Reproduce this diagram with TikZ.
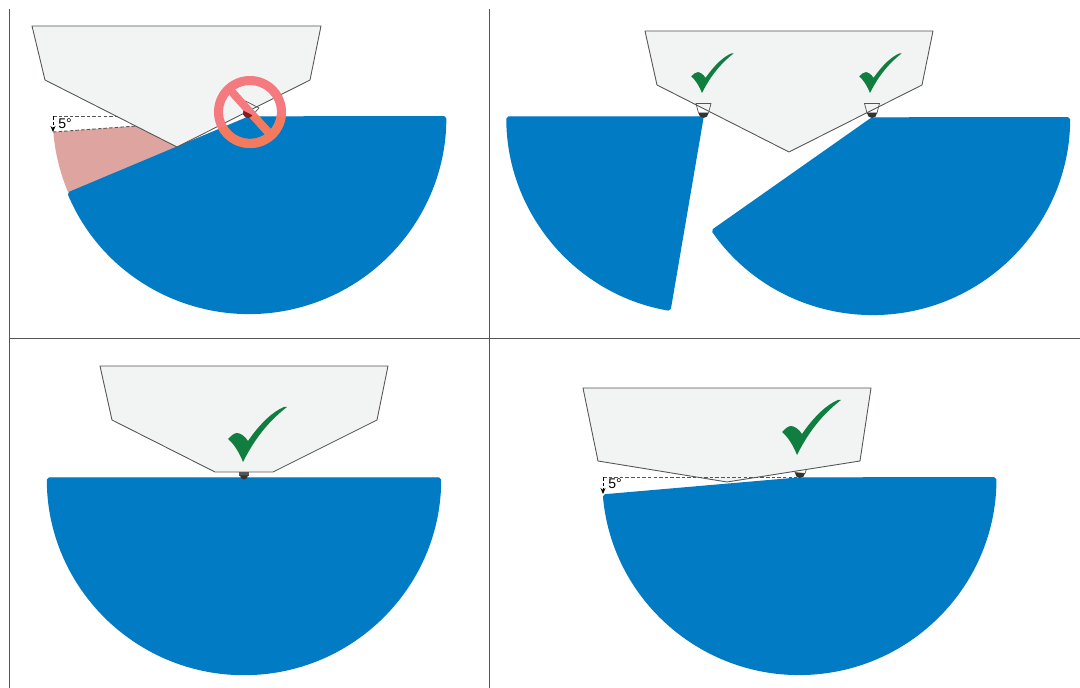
\documentclass[tikz,border=0pt]{standalone}
\usepackage{fontspec}
\setmainfont{Liberation Sans}
\usetikzlibrary{arrows.meta}
\definecolor{blue600} {HTML}{007BC4}
\definecolor{grey100} {HTML}{F2F3F3}
\definecolor{grey600} {HTML}{555555}
\definecolor{grey800} {HTML}{333333}
\definecolor{clay200} {HTML}{DEA5A0}
\definecolor{green700}{HTML}{0F7E3E}
\definecolor{rose400} {HTML}{F47A80}
\definecolor{rust400} {HTML}{F47A5E}
\definecolor{rust800} {HTML}{8A1C20}
\tikzset{
  frameline/.style={draw=grey600, line width=0.5pt},
  housing/.style  ={draw=grey600, fill=grey100, line width=0.5pt, line join=round},
  beam/.style     ={draw=blue600, fill=blue600, line width=0.8pt, line join=round,
                    rounded corners=1pt},
  blocked/.style  ={fill=clay200},
  angleline/.style={draw=grey600, line width=0.5pt, dashed, dash pattern=on 2pt off 1.2pt},
  anglearrow/.style={angleline, -{Stealth[length=1.2mm,width=1mm]}, draw=black},
  anglelabel/.style={font=\fontsize{8}{9}\selectfont, inner sep=0pt},
  tick/.pic={
    \fill[green700] (0,0) .. controls (9,18) and (22,38) .. (44,55)
      -- (41,55) .. controls (31,51) and (18,40) .. (5,21)
      .. controls (2,26) and (-3,29) .. (-6,29)
      .. controls (-9,29) and (-12,26) .. (-15,23)
      .. controls (-9,18) and (-4,10) .. cycle;
  },
  dome/.pic={
    \draw[grey600, line width=0.4pt] (-5,0) -- (-7.5,9.5) -- (7.5,9.5) -- (5,0) -- cycle;
    \fill[grey800] (-5,0) -- (5,0) arc[start angle=0,end angle=-180,radius=5] -- cycle;
  }
}
\begin{document}
\begin{tikzpicture}[x=0.02cm,y=0.02cm]
\useasboundingbox (0,0) rectangle (1080,-688);

\draw[frameline] (9,-9) -- (9,-688);
\draw[frameline] (489,-9) -- (489,-688);
\draw[frameline] (9,-338) -- (1080,-338);

\fill[blocked] (54,-132) -- (136,-126) -- (177,-147) -- (245,-118) -- (70,-194) -- (68,-192)
  arc[start angle=202.8,end angle=185,radius=196] -- cycle;
\draw[beam] (249,-117) -- (68,-193) arc[start angle=202.8,end angle=360,radius=196.5] -- cycle;
\draw[housing] (32,-26) -- (321,-26) -- (310,-80) -- (177,-147) -- (45,-80) -- cycle;
\draw[angleline] (53,-116) -- (118,-116);
\draw[angleline] (53,-132) -- (137,-126);
\draw[anglearrow] (53,-116) -- (53,-132);
\node[anglelabel] (anglea) at (65,-124) {5°};
\pic[rotate=-27] at (248,-113) {dome};

\fill[rose400, even odd rule] (250,-112) circle[radius=36] (250,-112) circle[radius=27];
\fill[rose400, rotate around={-48:(250,-112)}] (219,-116) rectangle (281,-108);
\begin{scope}
  \clip (249,-116) -- (68,-192) arc[start angle=202.8,end angle=360,radius=197] -- cycle;
  \fill[rust400, even odd rule] (250,-112) circle[radius=36] (250,-112) circle[radius=27];
  \fill[rust400, rotate around={-48:(250,-112)}] (219,-116) rectangle (281,-108);
\end{scope}
\fill[rust800] (248,-113) ++(153:5) arc[start angle=153,end angle=333,radius=5] -- cycle;

\draw[beam] (703,-117) -- (507,-117) arc[start angle=180,end angle=260.3,radius=196] -- cycle;
\draw[beam] (872,-118) -- (712,-230.5) arc[start angle=215,end angle=360,radius=196.5] -- cycle;
\draw[housing] (645,-31) -- (933,-31) -- (922,-85) -- (789,-152) -- (657,-85) -- cycle;
\pic at (703.5,-113) {dome};
\pic at (872,-113) {dome};
\pic[scale=0.72] at (702,-93) {tick};
\pic[scale=0.72] at (870,-93) {tick};

\draw[beam] (244,-478) -- (47.5,-478) arc[start angle=180,end angle=360,radius=196.5] -- cycle;
\draw[housing] (100,-366) -- (388,-366) -- (377,-420) -- (273,-472) -- (215,-472) -- (112,-420) -- cycle;
\fill[grey600] (239,-472) rectangle (249,-476);
\fill[grey800] (240,-475.5) -- (248,-475.5) arc[start angle=0,end angle=-180,radius=4] -- cycle;
\pic at (243,-462) {tick};

\draw[beam] (800,-478) -- (603.5,-495) arc[start angle=185,end angle=360,radius=196.5] -- cycle;
\pic[rotate=-5] at (800,-473) {dome};
\draw[housing] (583,-388) -- (871,-388) -- (860,-461) -- (727,-482) -- (598,-461) -- cycle;
\draw[angleline] (603,-477) -- (797,-477);
\draw[anglearrow] (603,-477) -- (603,-494);
\node[anglelabel] (angleb) at (615,-484) {5°};
\pic at (797,-455) {tick};
\end{tikzpicture}
\end{document}
